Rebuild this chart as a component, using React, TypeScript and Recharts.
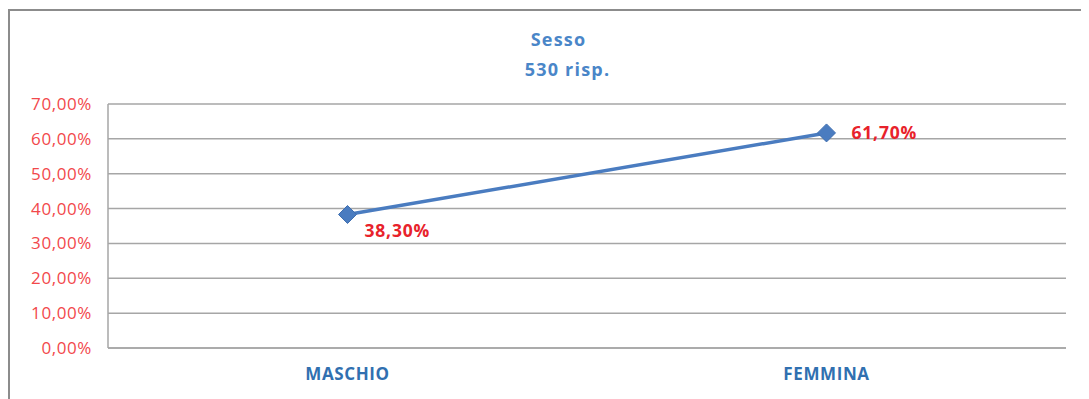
import React from 'react';
import { LineChart, Line, XAxis, YAxis, CartesianGrid, LabelList } from 'recharts';

const categories = ['MASCHIO', 'FEMMINA'];
const percentages = [38.3, 61.7];
const yTicks = [0, 10, 20, 30, 40, 50, 60, 70];
const titleLines = ['Sesso', '530 risp.'];

const chartData = categories.map((name, i) => ({ name, value: percentages[i] }));

const fmt = (v: number) => `${v.toFixed(2).replace('.', ',')}%`;

const FONT = '"Open Sans", sans-serif';

const Diamond = (props: any) => {
  const { cx, cy } = props;
  if (cx == null || cy == null) return null;
  const r = 9;
  return (
    <path
      d={`M${cx},${cy - r} L${cx + r},${cy} L${cx},${cy + r} L${cx - r},${cy} Z`}
      fill="#4A7CC0"
      stroke="#3F6FB0"
      strokeWidth={1}
    />
  );
};

const PointLabel = (props: any) => {
  const { x, y, value, index } = props;
  // first point: label below-right, second: right of the point
  const dx = index === 0 ? 17 : 25;
  const dy = index === 0 ? 18 : 1;
  return (
    <text
      x={x + dx}
      y={y + dy}
      dominantBaseline="middle"
      fill="#E8222B"
      fontFamily={FONT}
      fontWeight="bold"
      fontSize={17.5}
      letterSpacing={0.8}
    >
      {fmt(value)}
    </text>
  );
};

const App = () => {
  return (
    <div
      style={{
        position: 'relative',
        marginTop: 1,
        width: 1073,
        height: 390,
        border: '2px solid #8C8C8C',
        background: '#fff',
        fontFamily: FONT,
      }}
    >
      <div
        style={{
          position: 'absolute',
          left: 0,
          width: 1097,
          top: 13,
          textAlign: 'center',
          color: '#4A86C8',
          fontWeight: 'bold',
          fontSize: 18,
          lineHeight: '30px',
          letterSpacing: 1.2,
        }}
      >
        <div>{titleLines[0]}</div>
        <div style={{ marginLeft: 18 }}>{titleLines[1]}</div>
      </div>
      <LineChart
        width={1073}
        height={388}
        data={chartData}
        margin={{ top: 93, right: 17, bottom: 21, left: 8 }}
      >
        <CartesianGrid vertical={false} stroke="#A6A6A6" strokeWidth={1.5} />
        <XAxis
          dataKey="name"
          scale="band"
          height={30}
          axisLine={{ stroke: '#A6A6A6', strokeWidth: 1.5 }}
          tickLine={false}
          tickMargin={14}
          tick={{ fill: '#3070B0', fontSize: 17, fontWeight: 'bold', fontFamily: FONT, letterSpacing: 0.6 }}
        />
        <YAxis
          domain={[0, 70]}
          ticks={yTicks}
          width={90}
          interval={0}
          axisLine={{ stroke: '#A6A6A6', strokeWidth: 1.5 }}
          tickLine={false}
          tickMargin={10}
          tickFormatter={fmt}
          tick={{ fill: '#F2484B', fontSize: 17, fontFamily: FONT, letterSpacing: 0.6 }}
        />
        <Line
          type="linear"
          dataKey="value"
          stroke="#4A7CC0"
          strokeWidth={3.5}
          dot={<Diamond />}
          activeDot={false}
          isAnimationActive={false}
        >
          <LabelList dataKey="value" content={<PointLabel />} />
        </Line>
      </LineChart>
    </div>
  );
};

export default App;
